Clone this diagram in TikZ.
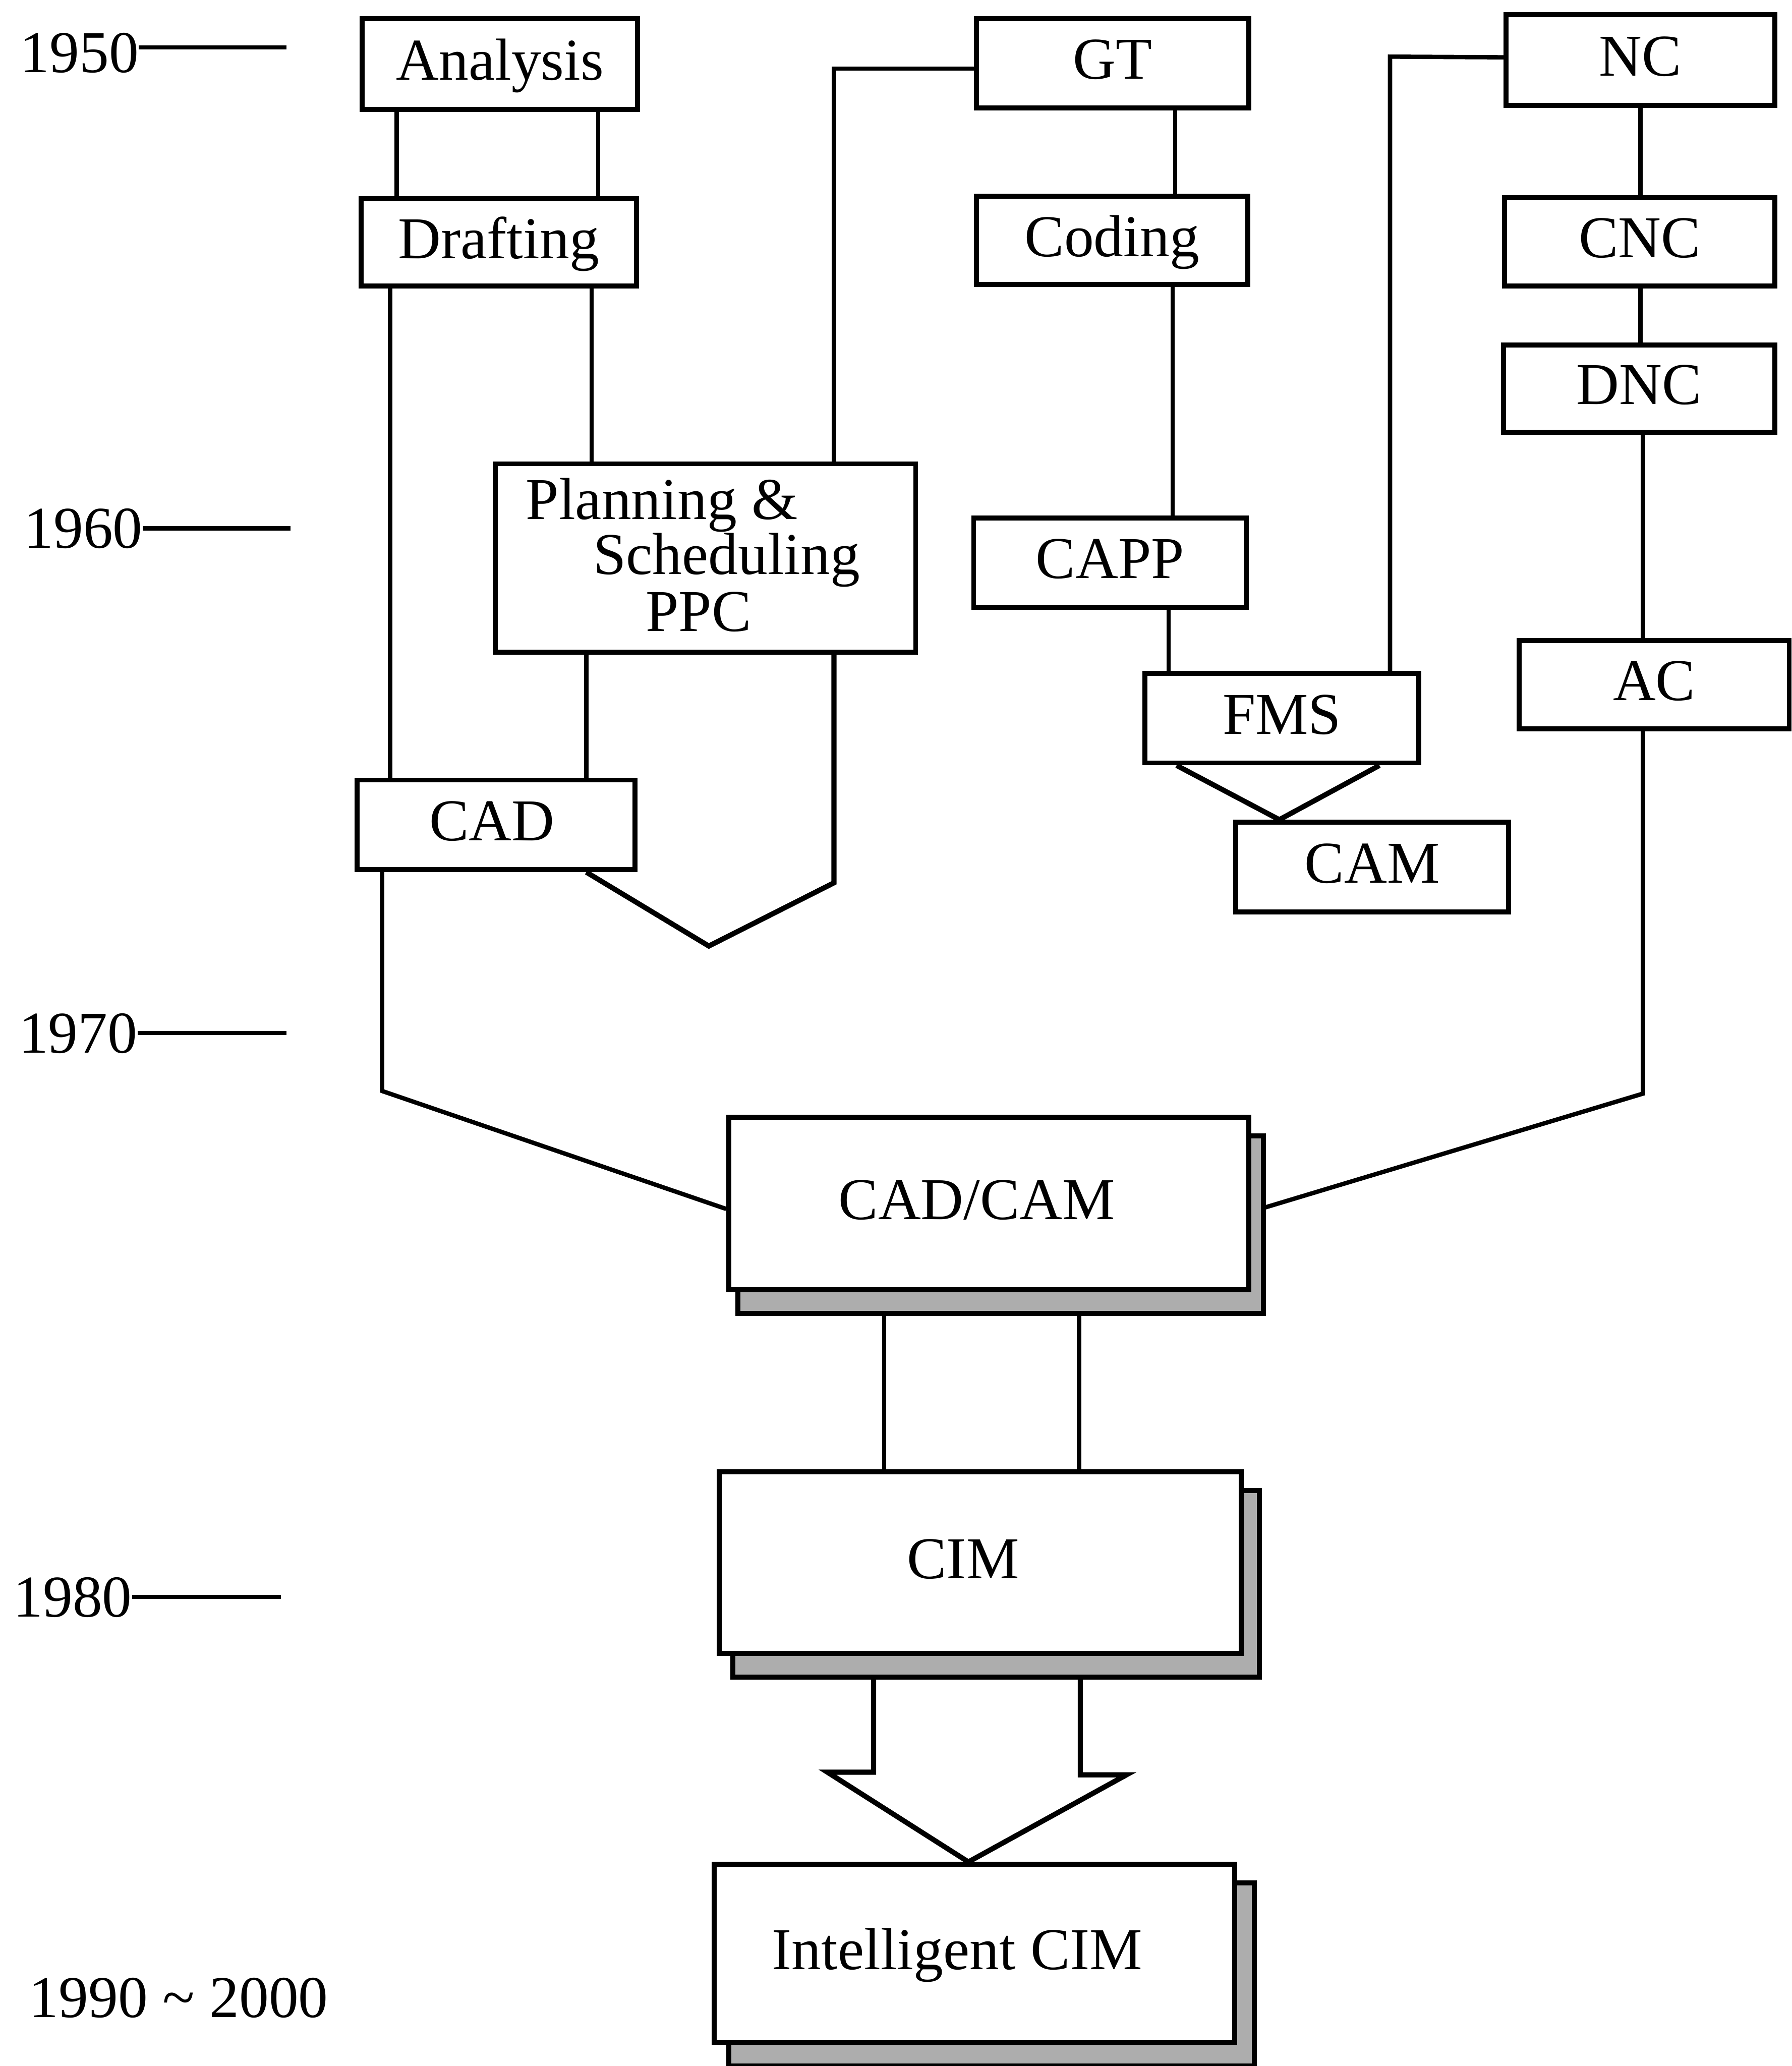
\documentclass[tikz,border=0pt]{standalone}
\usepackage{fontspec}
\setmainfont{Liberation Serif}
\pgfdeclarelayer{links}
\pgfdeclarelayer{shadows}
\pgfsetlayers{links,shadows,main}
\begin{document}
\begin{tikzpicture}[x=1pt,y=-1pt,
  every node/.style={font=\fontsize{45}{50}\selectfont},
  box/.style={draw, line width=3.8pt, fill=white, inner sep=0pt,
    text height=33.75pt, text depth=9.75pt, align=center},
  link/.style={line width=3.3pt, line join=miter},
  heavylink/.style={line width=3.9pt, line join=miter},
  shade/.style={draw, line width=3.8pt, fill=black!32},
  year/.style={inner sep=0pt, anchor=base west},
  tick/.style={line width=3.3pt},
  txt/.style={inner sep=0pt, anchor=base west}]

\useasboundingbox (0,0) rectangle (1360,1568);

% time axis labels
\node[year] (y50) at (15,55) {1950};
\node[year] (y60) at (18,416) {1960};
\node[year] (y70) at (14,799) {1970};
\node[year] (y80) at (10,1227) {1980};
\node[year] (y90) at (22,1531) {1990 \textasciitilde{} 2000};
\draw[tick] ([yshift=19pt]y50.base east) -- ++(112,0);
\draw[tick] ([yshift=15pt]y60.base east) -- ++(112,0);
\draw[tick] ([yshift=15pt]y70.base east) -- ++(113,0);
\draw[tick] ([yshift=15pt]y80.base east) -- ++(113,0);

% design branch
\node[box, minimum width=209pt, minimum height=69pt] (analysis) at (379.5,48.5) {Analysis};
\node[box, minimum width=209pt, minimum height=66pt] (drafting) at (378.5,184) {Drafting};
\node[box, minimum width=319pt, minimum height=143pt] (ppc) at (535.5,423.5) {};
\node[txt] (ppc1) at (399,394) {Planning \&};
\node[txt] (ppc2) at (450,436) {Scheduling};
\node[txt] (ppc3) at (490,479) {PPC};
\node[box, minimum width=211pt, minimum height=68pt] (cad) at (376.5,626) {CAD\hspace*{6pt}};

% group technology branch
\node[box, minimum width=207pt, minimum height=68pt] (gt) at (844.5,48) {GT};
\node[box, minimum width=206pt, minimum height=67pt] (coding) at (844,182.5) {Coding};
\node[box, minimum width=207pt, minimum height=68pt] (capp) at (842.5,427) {CAPP};
\node[box, minimum width=208pt, minimum height=68pt] (fms) at (973,545) {FMS};
\node[box, minimum width=207pt, minimum height=68pt] (cam) at (1041.5,658) {CAM};

% numerical control branch
\node[box, minimum width=204pt, minimum height=69pt] (nc) at (1245,45.5) {NC};
\node[box, minimum width=205pt, minimum height=67pt] (cnc) at (1244.5,183.5) {CNC};
\node[box, minimum width=206pt, minimum height=66pt] (dnc) at (1244,295) {DNC};
\node[box, minimum width=205pt, minimum height=67pt] (ac) at (1255.5,519.5) {AC};

% integration
\node[box, minimum width=395pt, minimum height=131pt] (cadcam) at (750.5,913.5) {CAD/CAM\hspace*{18pt}};
\node[box, minimum width=396pt, minimum height=138pt] (cim) at (744,1186) {CIM\hspace*{26pt}};
\node[box, minimum width=395pt, minimum height=135pt] (icim) at (739.5,1482.5) {Intelligent CIM\hspace*{26pt}};

\begin{pgfonlayer}{shadows}
\draw[shade] ([xshift=9pt,yshift=-16pt]cadcam.south west) rectangle ([xshift=9pt,yshift=-16pt]cadcam.north east);
\draw[shade] ([xshift=12pt,yshift=-16pt]cim.south west) rectangle ([xshift=12pt,yshift=-16pt]cim.north east);
\draw[shade] ([xshift=13pt,yshift=-16pt]icim.south west) rectangle ([xshift=13pt,yshift=-16pt]icim.north east);
\end{pgfonlayer}

\coordinate (vtip) at (538,718);
\coordinate (vbend) at (633,670);
\coordinate (ncbend) at (1055,43);
\coordinate (cadbend) at (290,828);
\coordinate (acbend) at (1247,830);
\coordinate (hl) at (628,1345);
\coordinate (hr) at (855,1347);

\begin{pgfonlayer}{links}
% design branch
\draw[link] ([xshift=-78.5pt]analysis.south) -- ([xshift=-78.5pt]analysis.south |- drafting.north);
\draw[link] ([xshift=74.5pt]analysis.south) -- ([xshift=74.5pt]analysis.south |- drafting.north);
\draw[link] ([xshift=-82.5pt]drafting.south) -- ([xshift=-82.5pt]drafting.south |- cad.north);
\draw[link] ([xshift=70.5pt]drafting.south) -- ([xshift=70.5pt]drafting.south |- ppc.north);
\draw[link] ([xshift=-90.5pt]ppc.south) -- ([xshift=-90.5pt]ppc.south |- cad.north);
\draw[heavylink] ([xshift=68.5pt]cad.south) -- (vtip) -- (vbend) -- ([xshift=97.5pt]ppc.south);
\draw[link] ([xshift=97.5pt]ppc.north) |- ([yshift=-4pt]gt.west);
% group technology branch
\draw[link] ([xshift=47.5pt]gt.south) -- ([xshift=47.5pt]gt.south |- coding.north);
\draw[link] ([xshift=46pt]coding.south) -- ([xshift=46pt]coding.south |- capp.north);
\draw[link] ([xshift=44.5pt]capp.south) -- ([xshift=44.5pt]capp.south |- fms.north);
\draw[link] ([yshift=2pt]nc.west) -- (ncbend) -- (ncbend |- fms.north);
\draw[heavylink] ([xshift=-80pt]fms.south) -- ([xshift=-70.5pt]cam.north) -- ([xshift=74pt]fms.south);
% numerical control branch
\draw[link] (nc.south) -- (nc.south |- cnc.north);
\draw[link] ([xshift=0.5pt]cnc.south) -- ([xshift=0.5pt]cnc.south |- dnc.north);
\draw[link] ([xshift=3pt]dnc.south) -- ([xshift=3pt]dnc.south |- ac.north);
% integration
\draw[link] ([xshift=-86.5pt]cad.south) -- (cadbend) -- ([yshift=-4pt]cadcam.west);
\draw[link] ([xshift=-8.5pt]ac.south) -- (acbend) -- ([yshift=-6pt]cadcam.east);
\draw[link] ([xshift=-79.5pt]cadcam.south) -- ([xshift=-79.5pt]cadcam.south |- cim.north);
\draw[link] ([xshift=68.5pt]cadcam.south) -- ([xshift=68.5pt]cadcam.south |- cim.north);
\draw[heavylink] ([xshift=-81pt]cim.south) -- ([xshift=-81pt]cim.south |- hl) -- (hl)
  -- ([xshift=-4.5pt]icim.north) -- (hr) -- ([xshift=76pt]cim.south |- hr) -- ([xshift=76pt]cim.south);
\end{pgfonlayer}
\end{tikzpicture}
\end{document}
